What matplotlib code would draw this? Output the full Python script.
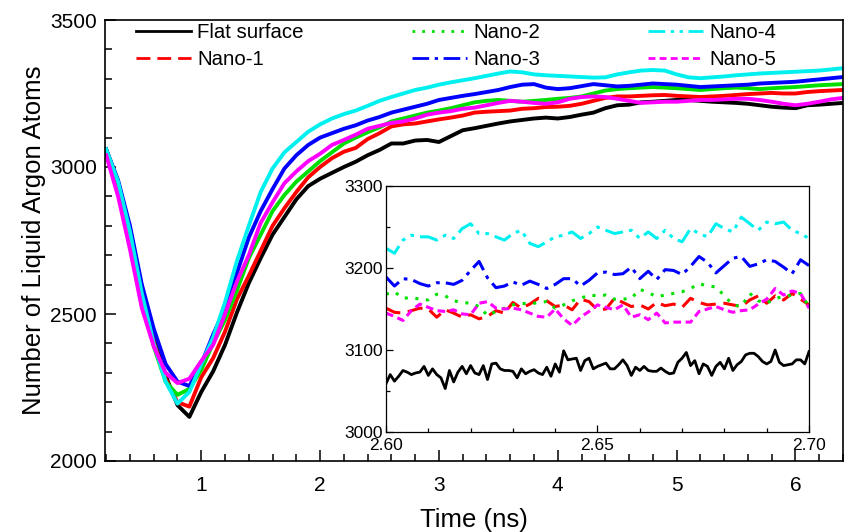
import numpy as np
import matplotlib
matplotlib.use("Agg")
import matplotlib.pyplot as plt
from matplotlib.lines import Line2D
from matplotlib.ticker import MultipleLocator, FixedLocator, FormatStrFormatter

plt.rcParams['font.family'] = ['Liberation Sans', 'DejaVu Sans']

# ---------------- data (main panel) ----------------
time_ns = [round(0.2 + 0.1 * i, 1) for i in range(63)]

flat = [3058, 2945, 2790, 2590, 2415, 2290, 2190, 2150, 2235, 2305,
        2395, 2505, 2605, 2690, 2770, 2830, 2890, 2935, 2960, 2980,
        3000, 3018, 3040, 3058, 3080, 3080, 3090, 3092, 3085, 3105,
        3125, 3132, 3140, 3148, 3155, 3160, 3165, 3168, 3165, 3170,
        3178, 3185, 3200, 3210, 3212, 3220, 3222, 3225, 3228, 3228,
        3225, 3222, 3220, 3218, 3215, 3210, 3205, 3202, 3200, 3210,
        3212, 3215, 3218]
nano1 = [3055, 2945, 2785, 2580, 2405, 2280, 2200, 2185, 2285, 2350,
         2440, 2550, 2630, 2715, 2800, 2860, 2915, 2965, 3000, 3030,
         3052, 3065, 3095, 3115, 3138, 3145, 3148, 3155, 3162, 3168,
         3175, 3185, 3188, 3190, 3192, 3198, 3200, 3204, 3205, 3208,
         3215, 3225, 3235, 3240, 3240, 3242, 3244, 3245, 3242, 3240,
         3238, 3240, 3242, 3245, 3248, 3250, 3252, 3250, 3250, 3255,
         3258, 3260, 3262]
nano2 = [3060, 2950, 2780, 2570, 2390, 2270, 2225, 2245, 2310, 2400,
         2480, 2580, 2690, 2770, 2850, 2905, 2950, 2985, 3020, 3050,
         3080, 3100, 3118, 3135, 3155, 3165, 3175, 3185, 3192, 3200,
         3210, 3220, 3225, 3228, 3225, 3222, 3225, 3228, 3232, 3235,
         3240, 3250, 3260, 3265, 3268, 3270, 3272, 3270, 3268, 3265,
         3262, 3265, 3268, 3270, 3268, 3265, 3268, 3270, 3272, 3275,
         3278, 3280, 3282]
nano3 = [3060, 2955, 2800, 2600, 2450, 2330, 2270, 2255, 2330, 2430,
         2520, 2640, 2760, 2850, 2925, 2995, 3040, 3075, 3100, 3115,
         3130, 3142, 3158, 3170, 3185, 3195, 3205, 3215, 3228, 3235,
         3242, 3248, 3255, 3262, 3272, 3280, 3282, 3270, 3265, 3268,
         3275, 3282, 3278, 3274, 3276, 3280, 3284, 3282, 3280, 3276,
         3272, 3274, 3276, 3278, 3280, 3284, 3286, 3288, 3290, 3294,
         3298, 3302, 3306]
nano4 = [3060, 2950, 2780, 2570, 2400, 2270, 2195, 2235, 2330, 2420,
         2540, 2680, 2800, 2915, 2995, 3050, 3085, 3120, 3145, 3165,
         3180, 3192, 3208, 3225, 3238, 3250, 3262, 3270, 3280, 3288,
         3295, 3302, 3310, 3318, 3325, 3322, 3315, 3312, 3310, 3308,
         3306, 3304, 3305, 3315, 3322, 3328, 3330, 3328, 3315, 3305,
         3302, 3305, 3308, 3312, 3315, 3318, 3320, 3322, 3324, 3326,
         3328, 3332, 3336]
nano5 = [3040, 2900, 2720, 2520, 2390, 2300, 2265, 2280, 2340, 2395,
         2500, 2610, 2700, 2810, 2880, 2945, 2985, 3020, 3045, 3075,
         3092, 3110, 3130, 3140, 3150, 3155, 3165, 3178, 3185, 3190,
         3198, 3202, 3210, 3218, 3225, 3222, 3218, 3215, 3220, 3232,
         3238, 3240, 3238, 3232, 3225, 3218, 3220, 3222, 3222, 3225,
         3228, 3228, 3230, 3232, 3232, 3228, 3222, 3215, 3210, 3215,
         3222, 3230, 3235]

# ---------------- data (inset) ----------------
t_inset_fine = [round(2.600 + 0.001 * i, 3) for i in range(101)]
t_inset = [round(2.600 + 0.002 * i, 3) for i in range(51)]

flat_in = [3059, 3070, 3062, 3068, 3075, 3073, 3070, 3072, 3073, 3080,
           3069, 3077, 3070, 3066, 3053, 3075, 3061, 3073, 3080, 3071,
           3081, 3072, 3070, 3081, 3064, 3083, 3084, 3077, 3075, 3075,
           3074, 3066, 3077, 3071, 3074, 3076, 3072, 3070, 3079, 3068,
           3083, 3073, 3099, 3088, 3089, 3090, 3075, 3087, 3090, 3077,
           3080, 3082, 3084, 3077, 3077, 3082, 3088, 3081, 3069, 3079,
           3075, 3080, 3075, 3074, 3074, 3078, 3074, 3071, 3072, 3085,
           3090, 3097, 3081, 3087, 3071, 3083, 3080, 3069, 3080, 3085,
           3077, 3090, 3075, 3082, 3086, 3094, 3096, 3096, 3092, 3086,
           3083, 3086, 3100, 3085, 3081, 3082, 3083, 3088, 3088, 3083,
           3098]
nano1_in = [3151, 3146, 3145, 3148, 3151, 3150, 3140, 3149, 3145, 3140,
            3143, 3138, 3141, 3148, 3145, 3158, 3151, 3156, 3163, 3160,
            3153, 3155, 3149, 3162, 3159, 3149, 3150, 3163, 3158, 3153,
            3155, 3150, 3158, 3154, 3156, 3152, 3163, 3158, 3155, 3156,
            3157, 3155, 3153, 3161, 3166, 3157, 3166, 3161, 3169, 3162,
            3155]
nano2_in = [3168, 3171, 3163, 3164, 3162, 3161, 3168, 3166, 3160, 3158,
            3157, 3153, 3142, 3147, 3151, 3155, 3157, 3156, 3158, 3159,
            3151, 3155, 3160, 3163, 3167, 3166, 3167, 3162, 3162, 3163,
            3174, 3170, 3165, 3167, 3169, 3171, 3175, 3181, 3178, 3177,
            3166, 3155, 3153, 3169, 3160, 3157, 3163, 3165, 3167, 3169,
            3153]
nano3_in = [3189, 3178, 3187, 3186, 3181, 3178, 3182, 3182, 3180, 3185,
            3197, 3208, 3188, 3176, 3178, 3183, 3179, 3184, 3180, 3175,
            3180, 3187, 3187, 3178, 3185, 3194, 3195, 3192, 3193, 3201,
            3187, 3196, 3186, 3198, 3197, 3192, 3202, 3214, 3207, 3194,
            3203, 3212, 3214, 3202, 3205, 3210, 3208, 3201, 3193, 3210,
            3203]
nano4_in = [3224, 3218, 3234, 3240, 3238, 3238, 3234, 3240, 3236, 3248,
            3254, 3242, 3242, 3238, 3234, 3242, 3246, 3230, 3226, 3232,
            3238, 3240, 3244, 3236, 3242, 3250, 3246, 3242, 3244, 3246,
            3236, 3244, 3236, 3246, 3236, 3232, 3248, 3242, 3238, 3254,
            3248, 3244, 3262, 3254, 3246, 3256, 3254, 3256, 3246, 3242,
            3236]
nano5_in = [3145, 3141, 3136, 3148, 3156, 3152, 3148, 3147, 3149, 3144,
            3143, 3157, 3159, 3151, 3150, 3151, 3149, 3145, 3141, 3140,
            3150, 3138, 3130, 3140, 3147, 3155, 3152, 3149, 3155, 3140,
            3143, 3137, 3145, 3133, 3134, 3134, 3134, 3147, 3150, 3153,
            3149, 3146, 3148, 3149, 3156, 3162, 3175, 3167, 3172, 3169,
            3151]

labels = ["Flat surface", "Nano-1", "Nano-2", "Nano-3", "Nano-4", "Nano-5"]
colors = ["#000000", "#FF0000", "#00E000", "#0000FF", "#00F0F0", "#FF00FF"]
styles = ["-", (0, (5, 2.5)), (0, (1, 2.5)), (0, (6, 2, 1.2, 2)),
          (0, (6, 2, 1.2, 2, 1.2, 2)), (0, (2.5, 1.5))]

main_series = [flat, nano1, nano2, nano3, nano4, nano5]
inset_series = [flat_in, nano1_in, nano2_in, nano3_in, nano4_in, nano5_in]

# ---------------- figure ----------------
W, H = 846, 532
fig = plt.figure(figsize=(W / 100, H / 100), dpi=100)
ax = fig.add_axes([105 / W, 1 - 461 / H, (843 - 105) / W, (461 - 20) / H])

for ys, c in zip(main_series, colors):
    ax.plot(time_ns, ys, color=c, lw=2.8, solid_joinstyle='round')

ax.set_xlim(0.19, 6.4)
ax.set_ylim(2000, 3500)
ax.xaxis.set_major_locator(FixedLocator([1, 2, 3, 4, 5, 6]))
ax.xaxis.set_minor_locator(MultipleLocator(0.2))
ax.yaxis.set_major_locator(MultipleLocator(500))
ax.yaxis.set_minor_locator(MultipleLocator(100))
ax.tick_params(which='both', direction='in', top=False, right=False,
               labelsize=15, width=1.1)
ax.tick_params(which='major', length=8)
ax.tick_params(which='minor', length=5)
ax.tick_params(axis='x', which='major', pad=11)
ax.tick_params(axis='y', which='major', pad=6)
for s in ax.spines.values():
    s.set_linewidth(1.2)
ax.set_xlabel("Time (ns)", fontsize=18.5, labelpad=9)
ax.set_ylabel("Number of Liquid Argon Atoms", fontsize=18.5, labelpad=3)

handles = [Line2D([], [], color=c, ls=s, lw=2) for c, s in zip(colors, styles)]
leg = fig.legend(handles, labels, ncol=3, loc='upper left',
                 bbox_to_anchor=(136 / W, 1 - 23 / H), frameon=False,
                 fontsize=14.7, handlelength=2.7, handletextpad=0.3,
                 columnspacing=5.3, labelspacing=0.4, borderpad=0,
                 borderaxespad=0)

# ---------------- inset ----------------
axi = fig.add_axes([386 / W, 1 - 432 / H, (809 - 386) / W, (432 - 186) / H])
axi.plot(t_inset_fine, flat_in, color=colors[0], ls=styles[0], lw=2)
for ys, c, s in zip(inset_series[1:], colors[1:], styles[1:]):
    axi.plot(t_inset, ys, color=c, ls=s, lw=2.2)
axi.set_xlim(2.60, 2.70)
axi.set_ylim(3000, 3300)
axi.xaxis.set_major_locator(FixedLocator([2.60, 2.65, 2.70]))
axi.xaxis.set_major_formatter(FormatStrFormatter('%.2f'))
axi.xaxis.set_minor_locator(MultipleLocator(0.01))
axi.yaxis.set_major_locator(MultipleLocator(100))
axi.yaxis.set_minor_locator(MultipleLocator(50))
axi.tick_params(which='both', direction='in', labelsize=12.5, width=0.9)
axi.tick_params(which='major', length=5)
axi.tick_params(which='minor', length=3)
axi.tick_params(axis='x', which='major', pad=4)
axi.tick_params(axis='y', which='major', pad=2)
for s in axi.spines.values():
    s.set_linewidth(0.9)

fig.savefig("out.png", dpi=100)
